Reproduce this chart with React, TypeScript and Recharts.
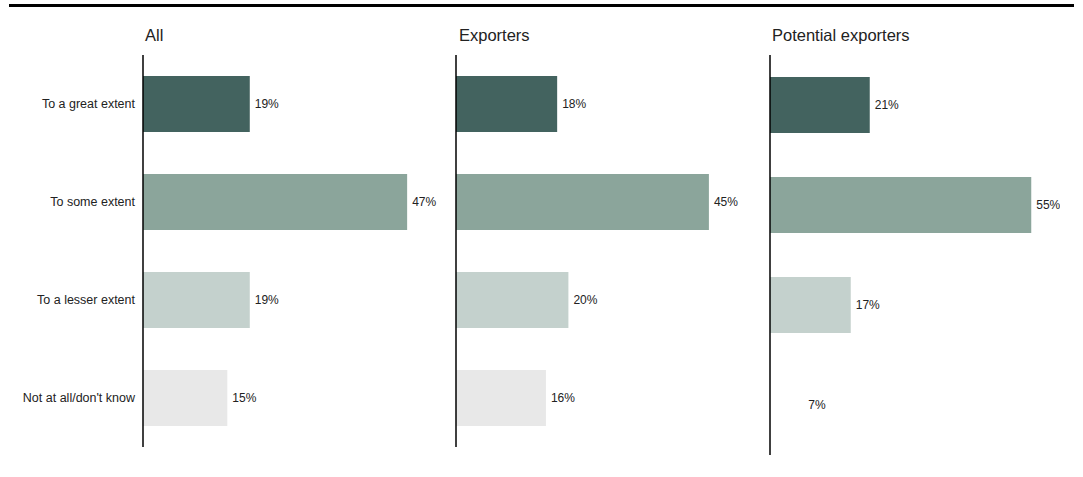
import React from "react";
import { BarChart, Bar, XAxis, YAxis, Cell, LabelList, ReferenceLine } from "recharts";

// categories
const categories = ["To a great extent", "To some extent", "To a lesser extent", "Not at all/don't know"];

// series values (%)
const allValues = [19, 47, 19, 15];
const exporterValues = [18, 45, 20, 16];
const potentialValues = [21, 55, 17, 7];

const panelTitles = ["All", "Exporters", "Potential exporters"];

const barColors = ["#43635F", "#8BA59B", "#C4D1CD", "#E8E8E8"];
// last bar of the third panel is not visible in the source
const potentialColors = ["#43635F", "#8BA59B", "#C4D1CD", "#FFFFFF"];

const font = "Arial, 'Liberation Sans', sans-serif";

const toRows = (values: number[]) =>
  categories.map((name, i) => ({ name, value: values[i] }));

type PanelProps = {
  values: number[];
  colors: string[];
  left: number;
  width: number;
  height: number;
  yWidth: number;
  marginLeft: number;
  marginRight: number;
  max: number;
  showTicks: boolean;
};

function Panel({ values, colors, left, width, height, yWidth, marginLeft, marginRight, max, showTicks }: PanelProps) {
  return (
    <div style={{ position: "absolute", left, top: 55 }}>
      <BarChart
        width={width}
        height={height}
        layout="vertical"
        data={toRows(values)}
        margin={{ top: 0, right: marginRight, bottom: 0, left: marginLeft }}
      >
        <XAxis type="number" domain={[0, max]} hide />
        {showTicks ? (
          <YAxis
            type="category"
            dataKey="name"
            width={yWidth}
            axisLine={{ stroke: "#000", strokeWidth: 1.5 }}
            tickLine={false}
            tick={{ fill: "#222", fontSize: 12.5, fontFamily: font }}
          />
        ) : (
          <YAxis type="category" dataKey="name" hide />
        )}
        <Bar dataKey="value" barSize={56} isAnimationActive={false}>
          {values.map((_, i) => (
            <Cell key={i} fill={colors[i]} />
          ))}
          <LabelList
            dataKey="value"
            position="right"
            offset={5}
            fill="#222"
            fontSize={12}
            fontFamily={font}
            formatter={(v: any) => `${v}%`}
          />
        </Bar>
        {!showTicks && <ReferenceLine x={0} stroke="#000" strokeWidth={1.5} />}
      </BarChart>
    </div>
  );
}

export default function App() {
  const titleStyle: React.CSSProperties = {
    position: "absolute",
    top: 26,
    fontSize: 16.5,
    fontFamily: font,
    color: "#222",
    whiteSpace: "nowrap",
  };
  return (
    <div style={{ position: "absolute", left: 0, top: 0, width: 1083, height: 477, background: "#fff" }}>
      {/* top rule */}
      <div style={{ position: "absolute", left: 9, top: 4, width: 1065, height: 3, background: "#000" }} />

      <div style={{ ...titleStyle, left: 145 }}>{panelTitles[0]}</div>
      <div style={{ ...titleStyle, left: 459 }}>{panelTitles[1]}</div>
      <div style={{ ...titleStyle, left: 772 }}>{panelTitles[2]}</div>

      <Panel values={allValues} colors={barColors} left={0} width={440} height={392}
        yWidth={143} marginLeft={0} marginRight={16} max={50} showTicks />
      <Panel values={exporterValues} colors={barColors} left={446} width={300} height={392}
        yWidth={0} marginLeft={10} marginRight={9} max={50} showTicks={false} />
      <Panel values={potentialValues} colors={potentialColors} left={760} width={300} height={400}
        yWidth={0} marginLeft={10} marginRight={5} max={60} showTicks={false} />
    </div>
  );
}
